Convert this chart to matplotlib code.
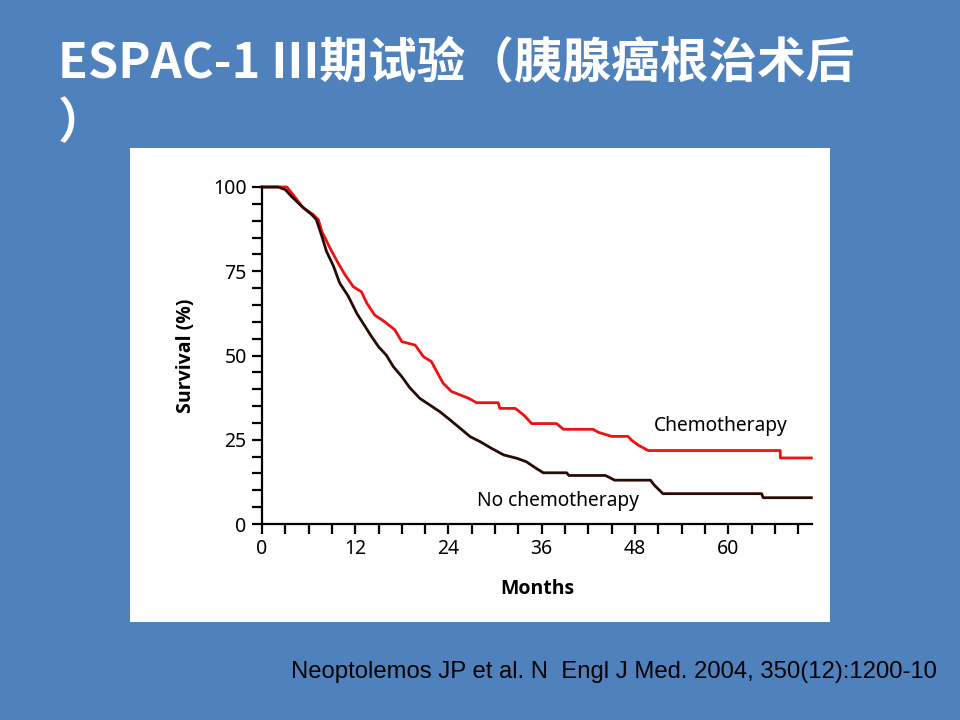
import matplotlib
matplotlib.use("Agg")
import matplotlib.pyplot as plt
from matplotlib.patches import Rectangle
from matplotlib.ticker import MultipleLocator

# Kaplan-Meier readings (months, survival %)
chemo_months = [0, 3.2, 4.0, 5.3, 6.6, 7.25, 7.7, 8.75, 9.8, 10.7, 11.75, 12.8, 13.5,
                14.5, 15.8, 17.1, 18.0, 19.7, 20.8, 21.8, 22.5, 23.3, 24.4, 25.5,
                26.6, 27.6, 30.4, 30.6, 32.6, 33.7, 34.7, 37.9, 38.8, 42.6, 43.3,
                45.0, 47.1, 47.6, 48.5, 49.7, 66.7, 66.7, 70.7]
chemo_surv = [100, 100, 97.7, 93.8, 91.8, 90.3, 86.8, 81.9, 77.4, 73.9, 70.4, 68.9, 65.5,
              62.0, 60.0, 57.6, 54.1, 53.1, 49.6, 48.2, 45.2, 41.8, 39.3, 38.3,
              37.3, 36.0, 36.0, 34.3, 34.3, 32.3, 29.8, 29.8, 28.1, 28.1, 27.2,
              26.0, 26.0, 24.8, 23.3, 21.8, 21.8, 19.6, 19.6]

nochemo_months = [0, 2.1, 3.0, 3.8, 5.1, 6.4, 7.0, 7.7, 8.3, 9.2, 10.0, 11.1, 12.2,
                  13.0, 14.1, 15.0, 16.0, 16.9, 18.0, 19.0, 20.3, 21.6, 22.9, 24.2,
                  25.5, 26.8, 28.1, 29.5, 31.1, 32.8, 34.0, 35.3, 36.2, 39.2, 39.5,
                  44.2, 45.4, 50.0, 50.5, 51.6, 64.3, 64.5, 70.7]
nochemo_surv = [100, 100, 99.2, 97.2, 94.3, 91.8, 90.3, 85.4, 80.9, 76.5, 71.5, 67.6, 62.5,
                59.6, 55.6, 52.6, 50.1, 46.7, 43.7, 40.5, 37.3, 35.3, 33.3, 30.9,
                28.4, 25.9, 24.4, 22.5, 20.5, 19.5, 18.5, 16.5, 15.2, 15.2, 14.4,
                14.4, 13.0, 13.0, 11.5, 9.0, 9.0, 7.8, 7.8]

x_ticks = [0, 12, 24, 36, 48, 60]
y_ticks = [0, 25, 50, 75, 100]

BLUE_BG = "#4F81BD"
RED = "#F01010"
DARK = "#2A0A04"
LABEL_FONT = ["Open Sans", "DejaVu Sans"]

fig = plt.figure(figsize=(9.6, 7.2), dpi=100)
fig.patch.set_facecolor(BLUE_BG)

# white picture panel, kept behind the axes
fig.patches.append(Rectangle((130/960, 1-622/720), 700/960, 474/720,
                             transform=fig.transFigure, facecolor="white",
                             edgecolor="none", zorder=-5))

fig.text(58/960, 1-64/720, "ESPAC-1 III期试验（胰腺癌根治术后",
         color="white", fontsize=35, fontweight="bold",
         family=["Noto Sans CJK SC", "DejaVu Sans"], va="center", ha="left")
fig.text(58/960, 1-124/720, "）", color="white", fontsize=35, fontweight="bold",
         family=["Noto Sans CJK SC", "DejaVu Sans"], va="center", ha="left")

fig.text(937/960, 1-672/720, "Neoptolemos JP et al. N  Engl J Med. 2004, 350(12):1200-10",
         color="black", fontsize=17.2, family="Liberation Sans", va="center", ha="right")

ax = fig.add_axes([262/960, 1-524/720, 550/960, 337/720])
ax.set_zorder(2)
ax.set_facecolor("none")
ax.set_xlim(0, 550/7.77)
ax.set_ylim(0, 100)

ax.plot(chemo_months, chemo_surv, color=RED, lw=2, clip_on=False)
ax.plot(nochemo_months, nochemo_surv, color=DARK, lw=2, clip_on=False)

for s in ["top", "right"]:
    ax.spines[s].set_visible(False)
for s in ["left", "bottom"]:
    ax.spines[s].set_linewidth(1.6)
    ax.spines[s].set_color("black")

ax.set_xticks(x_ticks)
ax.set_yticks(y_ticks)
ax.xaxis.set_minor_locator(MultipleLocator(3))
ax.yaxis.set_minor_locator(MultipleLocator(5))
ax.tick_params(which="both", direction="out", width=1.6, color="black")
ax.tick_params(which="major", length=7, labelsize=14, pad=4)
ax.tick_params(which="minor", length=7)
for lab in ax.get_xticklabels() + ax.get_yticklabels():
    lab.set_family("Noto Sans")

ax.set_xlabel("Months", fontsize=14, fontweight="bold", family=LABEL_FONT, labelpad=14)
ax.set_ylabel("Survival (%)", fontsize=14, fontweight="bold", family=LABEL_FONT, labelpad=12)

ax.text(50.4, 26.2, "Chemotherapy", fontsize=13.8, family="Noto Sans", va="bottom")
ax.text(27.7, 4.0, "No chemotherapy", fontsize=13.8, family="Noto Sans", va="bottom")

fig.savefig("out.png", dpi=100, facecolor=fig.get_facecolor())
